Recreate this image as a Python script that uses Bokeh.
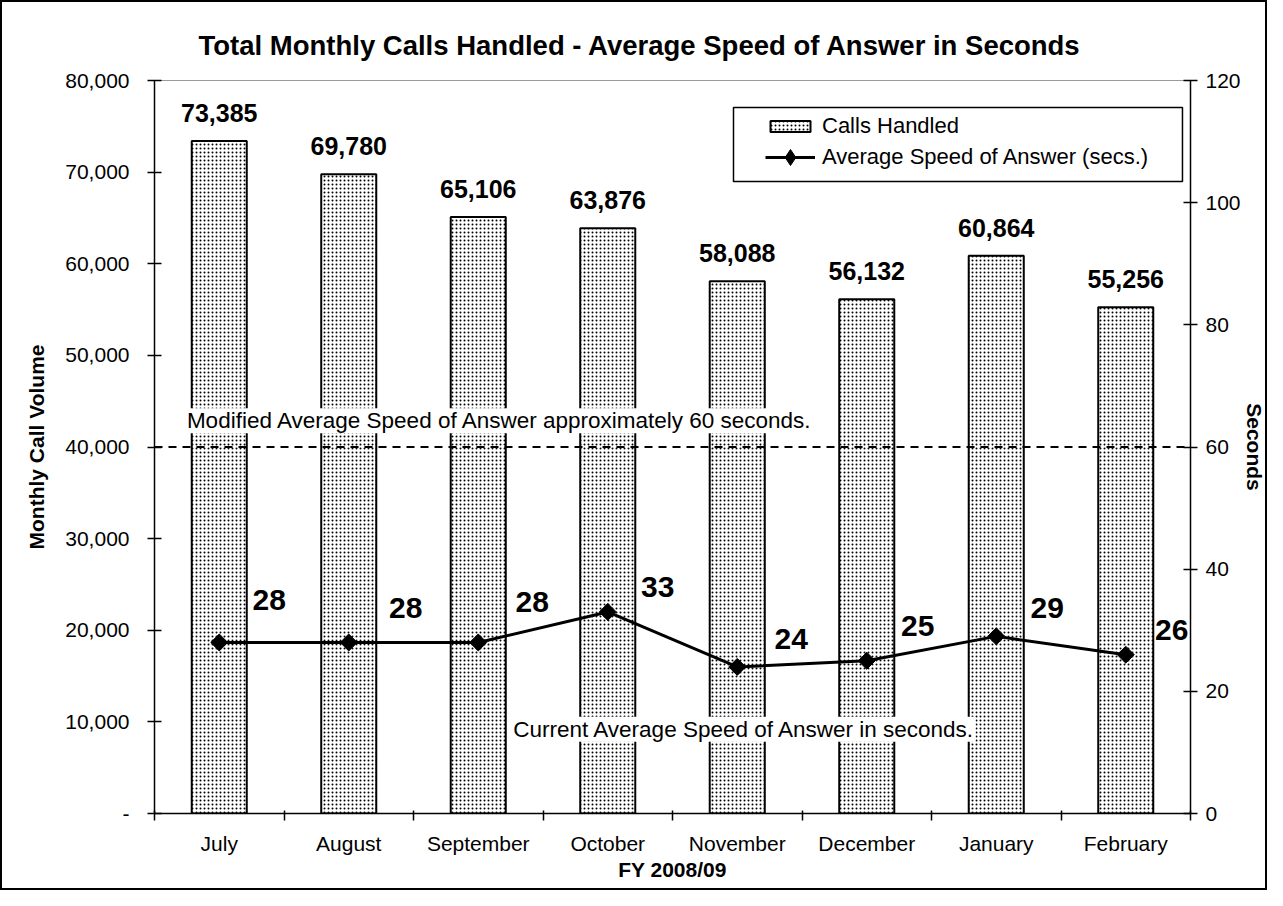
from bokeh.plotting import figure
from bokeh.models import (Range1d, LinearAxis, FixedTicker, ColumnDataSource, Span, Label,
                          Legend, LegendItem, BoxAnnotation, CustomJSTickFormatter)
from bokeh.core.properties import value
from bokeh.embed import file_html
from bokeh.resources import INLINE
import numpy as np

# ---------------- data ----------------
months = ["July", "August", "September", "October", "November", "December", "January", "February"]
calls_handled = [73385, 69780, 65106, 63876, 58088, 56132, 60864, 55256]
asa_secs = [28, 28, 28, 33, 24, 25, 29, 26]
calls_ticks = [0, 10000, 20000, 30000, 40000, 50000, 60000, 70000, 80000]
secs_ticks = [0, 20, 40, 60, 80, 100, 120]
target_secs = 60

title_text = "Total Monthly Calls Handled - Average Speed of Answer in Seconds"
target_note = "Modified Average Speed of Answer approximately 60 seconds."
current_note = "Current Average Speed of Answer in seconds."
legend_bar_label = "Calls Handled"
legend_line_label = "Average Speed of Answer (secs.)"

# ---------------- style ----------------
FONT = "Liberation Sans"
W, H = 1267, 890
# label offsets (pixels) for the seconds labels
lab_dx = [50, 57, 54, 50, 54, 51, 51, 46]
lab_dy = [-42, -34, -40, -25, -28, -35, -28, -25]

n = len(months)
xpos = [i + 0.5 for i in range(n)]

src = ColumnDataSource(dict(
    x=xpos,
    calls=calls_handled,
    calls_lbl=[f"{v:,}" for v in calls_handled],
    secs=asa_secs,
    secs_lbl=[str(v) for v in asa_secs],
    dx=lab_dx,
    dy=lab_dy,
))

p = figure(width=W, height=H, output_backend="svg", toolbar_location=None,
           x_range=Range1d(0, n), y_range=Range1d(0, 80000),
           min_border_left=152, min_border_right=79, min_border_top=78, min_border_bottom=79,
           background_fill_color="white", border_fill_color="white",
           styles={"border": "2px solid black"})
p.extra_y_ranges = {"secs": Range1d(0, 120)}
p.xgrid.visible = False
p.ygrid.visible = False
p.outline_line_color = "#9a9a9a"
p.outline_line_width = 1

# title
p.title.text = title_text
p.title.align = "left"
p.title.offset = 44
p.title.text_font = FONT
p.title.text_font_style = "bold"
p.title.text_font_size = "27.5px"
p.title.text_color = "black"
p.title.standoff = 39

# left axis
ya = p.yaxis[0]
ya.ticker = FixedTicker(ticks=calls_ticks, minor_ticks=[])
ya.formatter = CustomJSTickFormatter(code="return tick == 0 ? '-' : tick.toLocaleString('en-US');")
ya.major_tick_in = 7
ya.major_tick_out = 7
ya.major_tick_line_width = 1.5
ya.axis_line_width = 1.5
ya.axis_line_color = "black"
ya.major_label_text_font = FONT
ya.major_label_text_font_size = "21px"
ya.major_label_text_color = "black"
ya.major_label_standoff = 18
ya.axis_label = "Monthly Call Volume"
ya.axis_label_text_font = FONT
ya.axis_label_text_font_style = "bold"
ya.axis_label_text_font_size = "21px"
ya.axis_label_text_color = "black"
ya.axis_label_standoff = 14

# right axis
ra = LinearAxis(y_range_name="secs", ticker=FixedTicker(ticks=secs_ticks, minor_ticks=[]))
ra.major_tick_in = 7
ra.major_tick_out = 7
ra.major_tick_line_width = 1.5
ra.axis_line_width = 1.5
ra.axis_line_color = "black"
ra.major_label_text_font = FONT
ra.major_label_text_font_size = "21px"
ra.major_label_text_color = "black"
ra.major_label_standoff = 8
ra.axis_label = "Seconds"
ra.axis_label_text_font = FONT
ra.axis_label_text_font_style = "bold"
ra.axis_label_text_font_size = "21px"
ra.axis_label_text_color = "black"
ra.axis_label_standoff = -1
p.add_layout(ra, "right")

# bottom axis
xa = p.xaxis[0]
xa.ticker = FixedTicker(ticks=xpos, minor_ticks=list(range(n + 1)))
xa.formatter = CustomJSTickFormatter(args=dict(months=months),
                                     code="return months[Math.floor(tick)] || '';")
xa.major_tick_line_color = None
xa.major_tick_in = 0
xa.major_tick_out = 0
xa.minor_tick_in = 3
xa.minor_tick_out = 7
xa.minor_tick_line_color = "black"
xa.minor_tick_line_width = 1.5
xa.axis_line_width = 1.5
xa.axis_line_color = "black"
xa.major_label_text_font = FONT
xa.major_label_text_font_size = "21px"
xa.major_label_text_color = "black"
xa.major_label_standoff = 11
xa.axis_label = "FY 2008/09"
xa.axis_label_text_font = FONT
xa.axis_label_text_font_style = "bold"
xa.axis_label_text_font_size = "21px"
xa.axis_label_text_color = "black"
xa.axis_label_standoff = 0

# bars
bars = p.vbar(x="x", top="calls", width=0.425, source=src,
              fill_color="white", line_color="black", line_width=2,
              hatch_pattern="dot", hatch_color="black", hatch_scale=4, hatch_weight=1.0)

# bar value labels
p.text(x="x", y="calls", text="calls_lbl", source=src, text_align="center",
       text_baseline="alphabetic", y_offset=-28, text_font=value(FONT),
       text_font_style="bold", text_font_size="25px", text_color="black")

# target line
p.add_layout(Span(location=target_secs, dimension="width", y_range_name="secs",
                  line_color="black", line_width=2, line_dash="8 6"))

# notes
p.add_layout(Label(x=0.25, y=64.3, y_range_name="secs", text=target_note,
                   text_baseline="middle", text_font=FONT, text_font_size="22.5px",
                   text_color="black", background_fill_color="white"))
p.add_layout(Label(x=2.77, y=13.8, y_range_name="secs", text=current_note,
                   text_baseline="middle", text_font=FONT, text_font_size="22.5px",
                   text_color="black", background_fill_color="white"))

# seconds line
ln = p.line(x="x", y="secs", source=src, y_range_name="secs", line_color="black", line_width=3)
pts = p.scatter(x="x", y="secs", source=src, y_range_name="secs", marker="square",
                angle=np.pi / 4, size=12, fill_color="black", line_color="black")
# diamond swatch used only by the legend (no drawable points)
leg_pts = p.scatter(x=[np.nan], y=[np.nan], y_range_name="secs", marker="diamond",
                    fill_color="black", line_color="black")
p.text(x="x", y="secs", text="secs_lbl", source=src, y_range_name="secs",
       x_offset="dx", y_offset="dy", text_align="center", text_baseline="middle",
       text_font=value(FONT), text_font_style="bold", text_font_size="30px", text_color="black")

# legend frame (drawn separately) and two borderless legends inside it
p.add_layout(BoxAnnotation(left=4.471, right=7.938, top=77050, bottom=68980,
                           fill_color="white", fill_alpha=1,
                           line_color="black", line_alpha=1, line_width=1.5))
common = dict(label_text_font=FONT, label_text_font_size="22px", label_text_color="black",
              label_height=24, label_standoff=7, glyph_width=50, spacing=0, padding=0,
              margin=0, border_line_color=None, background_fill_alpha=0)
leg1 = Legend(items=[LegendItem(label=legend_bar_label, renderers=[bars])],
              location=(611, 674), glyph_height=14, **common)
leg2 = Legend(items=[LegendItem(label=legend_line_label, renderers=[ln, leg_pts])],
              location=(611, 636), glyph_height=40, **common)
p.add_layout(leg1)
p.add_layout(leg2)

open("out.html", "w").write(file_html(p, INLINE))
